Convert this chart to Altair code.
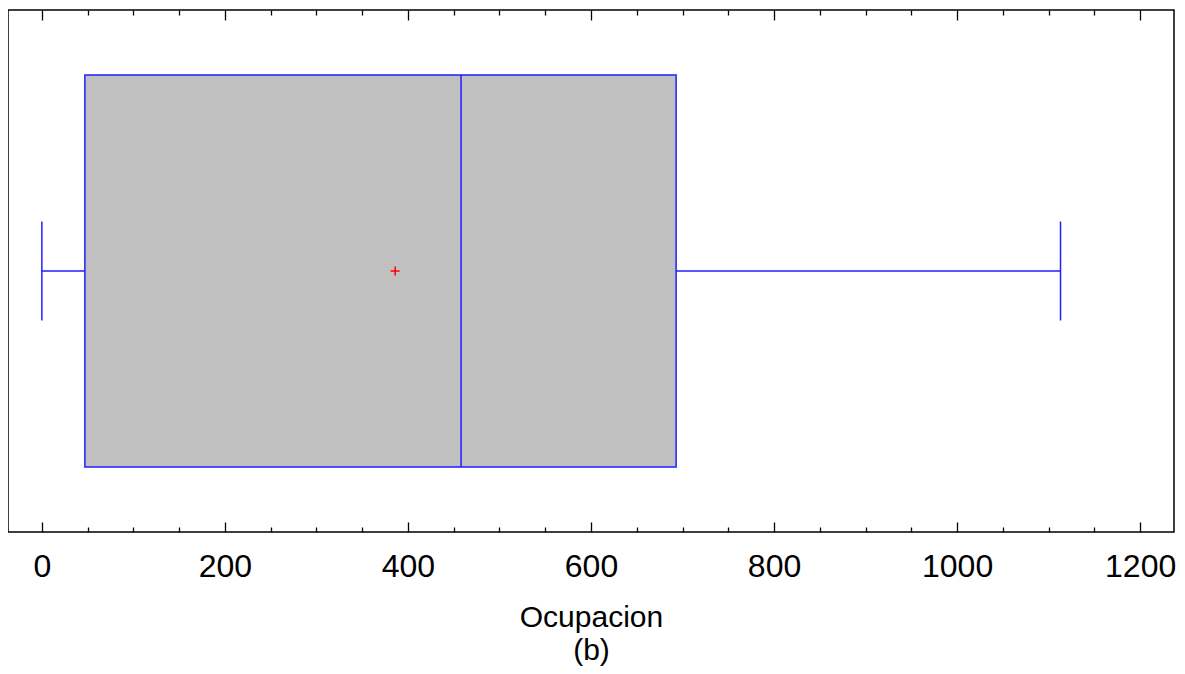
import altair as alt
import pandas as pd

# --- data ---
variable = ["Ocupacion"]
minimum = [0]
q1 = [47]
median = [458]
q3 = [693]
maximum = [1113]
mean = [386]

major_ticks = [0, 200, 400, 600, 800, 1000, 1200]
minor_ticks = [50, 100, 150, 250, 300, 350, 450, 500, 550, 650, 700, 750,
               850, 900, 950, 1050, 1100, 1150]
x_domain = [-37, 1237]

box_df = pd.DataFrame({"var": variable, "q1": q1, "median": median, "q3": q3, "mean": mean})
whisk_df = pd.DataFrame({"var": variable * 2,
                         "start": [minimum[0], q3[0]],
                         "end": [q1[0], maximum[0]]})
caps_df = pd.DataFrame({"var": variable * 2, "value": [minimum[0], maximum[0]]})

BLUE = "#1f1fff"
FONT = "Liberation Sans"

xscale = alt.Scale(domain=x_domain, nice=False, zero=False)
Y = alt.Y("var:N", axis=None, scale=alt.Scale(paddingInner=0, paddingOuter=0))

bottom_major = alt.Axis(orient="bottom", values=major_ticks, offset=-10, tickSize=10,
                        tickWidth=1.3, tickColor="#000", domain=False, grid=False,
                        format="d",
                        labelFont=FONT, labelFontSize=32, labelColor="#000",
                        labelPadding=19, labelFlush=False,
                        title=["Ocupacion", "(b)"], titleFont=FONT, titleFontSize=30,
                        titleFontWeight="normal", titleColor="#000",
                        titleLineHeight=33, titlePadding=20)
bottom_minor = alt.Axis(orient="bottom", values=minor_ticks, offset=-5, tickSize=5,
                        tickWidth=1.3, tickColor="#000", domain=False, grid=False,
                        labels=False, title=None)
top_major = alt.Axis(orient="top", values=major_ticks, offset=-10, tickSize=10,
                     tickWidth=1.3, tickColor="#000", domain=False, grid=False,
                     labels=False, title=None)
top_minor = alt.Axis(orient="top", values=minor_ticks, offset=-5, tickSize=5,
                     tickWidth=1.3, tickColor="#000", domain=False, grid=False,
                     labels=False, title=None)

box = alt.Chart(box_df).mark_bar(color="#c0c0c0", stroke=BLUE, strokeWidth=1.5,
                                 size=392, opacity=1).encode(
    x=alt.X("q1:Q", scale=xscale, axis=bottom_major),
    x2="q3:Q",
    y=Y,
)

whiskers = alt.Chart(whisk_df).mark_rule(color=BLUE, strokeWidth=1.5).encode(
    x=alt.X("start:Q", scale=xscale, axis=bottom_minor),
    x2="end:Q",
    y=Y,
)

caps = alt.Chart(caps_df).mark_tick(color=BLUE, size=99, thickness=1.5, opacity=1).encode(
    x=alt.X("value:Q", scale=xscale, axis=top_major),
    y=Y,
)

med = alt.Chart(box_df).mark_tick(color=BLUE, size=392, thickness=1.5, opacity=1).encode(
    x=alt.X("median:Q", scale=xscale, axis=top_minor),
    y=Y,
)

mean_pt = alt.Chart(box_df).mark_point(shape="M-1,0L1,0M0,-1L0,1", size=81, filled=False,
                                       color="#ff0000", strokeWidth=1.5, opacity=1).encode(
    x=alt.X("mean:Q", scale=xscale, axis=None),
    y=Y,
)

chart = alt.layer(box, whiskers, caps, med, mean_pt).resolve_axis(
    x="independent"
).properties(
    width=1166,
    height=522,
    autosize=alt.AutoSizeParams(type="none"),
    padding={"left": 0, "top": 2, "right": 3, "bottom": 134},
    background="white",
).configure_view(
    stroke="#000", strokeWidth=1.5
)

chart.save("out.html", embed_options={"renderer": "svg", "actions": False})
